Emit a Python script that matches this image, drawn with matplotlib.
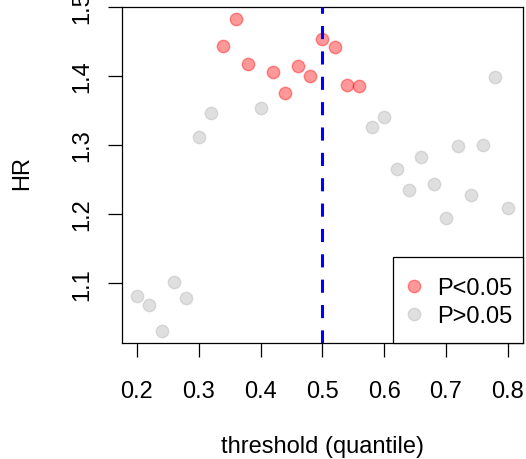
import matplotlib
matplotlib.use("Agg")
import matplotlib.pyplot as plt
from matplotlib.patches import Rectangle

plt.rcParams['font.family'] = ['Liberation Sans', 'DejaVu Sans']

# Data
threshold = [0.20, 0.22, 0.24, 0.26, 0.28, 0.30, 0.32, 0.34, 0.36, 0.38, 0.40,
             0.42, 0.44, 0.46, 0.48, 0.50, 0.52, 0.54, 0.56, 0.58, 0.60, 0.62,
             0.64, 0.66, 0.68, 0.70, 0.72, 0.74, 0.76, 0.78, 0.80]
hr = [1.081, 1.068, 1.031, 1.102, 1.079, 1.311, 1.346, 1.444, 1.483, 1.418, 1.354,
      1.406, 1.375, 1.414, 1.400, 1.454, 1.442, 1.387, 1.386, 1.326, 1.341, 1.266,
      1.235, 1.282, 1.243, 1.195, 1.298, 1.228, 1.300, 1.398, 1.209]
significant = [False, False, False, False, False, False, False, True, True, True, False,
               True, True, True, True, True, True, True, True, False, False, False,
               False, False, False, False, False, False, False, False, False]
cutoff = 0.5
xticks = [0.2, 0.3, 0.4, 0.5, 0.6, 0.7, 0.8]
yticks = [1.1, 1.2, 1.3, 1.4, 1.5]
legend_labels = ["P<0.05", "P>0.05"]

red = (1, 0, 0, 0.4)
grey = (0.69, 0.69, 0.69, 0.4)
FS = 17

W, H = 526, 460
AX_L, AX_R, AX_T, AX_B = 122, 522.7, 7.5, 344

fig = plt.figure(figsize=(W / 100, H / 100), dpi=100)
ax = fig.add_axes([AX_L / W, 1 - AX_B / H, (AX_R - AX_L) / W, (AX_B - AX_T) / H])


def axc(px, py):
    return (px - AX_L) / (AX_R - AX_L), (AX_B - py) / (AX_B - AX_T)


xs_sig = [x for x, s in zip(threshold, significant) if s]
ys_sig = [y for y, s in zip(hr, significant) if s]
xs_ns = [x for x, s in zip(threshold, significant) if not s]
ys_ns = [y for y, s in zip(hr, significant) if not s]

ax.scatter(xs_ns, ys_ns, s=80, color=grey, edgecolors=grey, linewidths=1.0, zorder=2)
ax.scatter(xs_sig, ys_sig, s=80, color=red, edgecolors=red, linewidths=1.0, zorder=2)
ax.axvline(cutoff, color='blue', lw=2.2, dashes=(4.3, 4.0), zorder=3)

ax.set_xlim(0.176, 0.824)
ax.set_ylim(1.0133, 1.5007)
ax.set_xticks(xticks)
ax.set_xticklabels([f"{v:.1f}" for v in xticks])
ax.set_yticks(yticks)
ax.set_yticklabels([f"{v:.1f}" for v in yticks], rotation=90, va='center')

for sp in ax.spines.values():
    sp.set_linewidth(0.9)
    sp.set_color('black')
ax.tick_params(axis='both', length=10, width=0.9, labelsize=FS, colors='black')
ax.tick_params(axis='x', pad=17)
ax.tick_params(axis='y', pad=11)

ax.set_xlabel("threshold (quantile)", fontsize=FS, va='center')
ax.xaxis.set_label_coords(0.5, -0.305)
ax.set_ylabel("HR", fontsize=FS, va='center')
ax.yaxis.set_label_coords(-0.25, 0.508)

# Legend box (R-style)
x0, y0 = axc(392.7, 344)
x1, y1 = axc(AX_R, 258.3)
ax.add_patch(Rectangle((x0, y0), x1 - x0, y1 - y0, transform=ax.transAxes,
                       facecolor='white', edgecolor='black', linewidth=0.9,
                       zorder=4, clip_on=False))
for label, col, row_y, base_y in zip(legend_labels, [red, grey], [286.7, 315.0], [295.0, 323.3]):
    mx, my = axc(414.3, row_y)
    ax.scatter([mx], [my], s=80, color=col, edgecolors=col, linewidths=1.0,
               transform=ax.transAxes, zorder=5, clip_on=False)
    tx, ty = axc(436.7, base_y)
    ax.text(tx, ty, label, transform=ax.transAxes, fontsize=FS, ha='left',
            va='baseline', zorder=5)

fig.savefig("out.png", dpi=100)
